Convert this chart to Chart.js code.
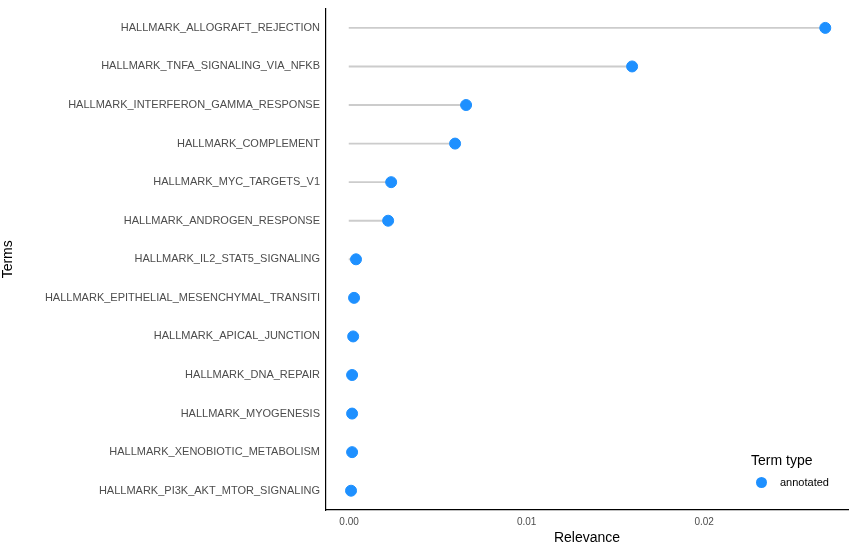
<!DOCTYPE html>
<html><head><meta charset="utf-8">
<script src="https://cdn.jsdelivr.net/npm/chart.js@4"></script>
<style>body{margin:0;background:#fff;font-family:"Liberation Sans",Arial,sans-serif}
#w{position:relative;width:856px;height:551px}
#lg{position:absolute;left:751px;top:452px;font-size:14px;color:#000}
#lg .it{margin-top:8px;font-size:11px;display:flex;align-items:center}
#lg .dot{width:11px;height:11px;border-radius:50%;background:#1e90ff;margin:0 13px 0 5px}</style>
</head><body><div id="w"><canvas id="c" width="856" height="551"></canvas>
<div id="lg">Term type<div class="it"><span class="dot"></span>annotated</div></div></div>
<script>
const terms=["HALLMARK_ALLOGRAFT_REJECTION","HALLMARK_TNFA_SIGNALING_VIA_NFKB","HALLMARK_INTERFERON_GAMMA_RESPONSE","HALLMARK_COMPLEMENT","HALLMARK_MYC_TARGETS_V1","HALLMARK_ANDROGEN_RESPONSE","HALLMARK_IL2_STAT5_SIGNALING","HALLMARK_EPITHELIAL_MESENCHYMAL_TRANSITI","HALLMARK_APICAL_JUNCTION","HALLMARK_DNA_REPAIR","HALLMARK_MYOGENESIS","HALLMARK_XENOBIOTIC_METABOLISM","HALLMARK_PI3K_AKT_MTOR_SIGNALING"];
const relevance=[0.02682,0.01594,0.00659,0.00597,0.00237,0.00220,0.00039,0.00028,0.00023,0.00017,0.00017,0.00017,0.00011];
const xTicks=[0,0.01,0.02];
new Chart(document.getElementById('c'),{
data:{labels:terms,datasets:[
{type:'bar',data:relevance.map(v=>[0,v]),backgroundColor:'#cccccc',barThickness:1.2,order:2},
{type:'line',data:relevance.map((v,i)=>({x:v,y:terms[i]})),showLine:false,pointRadius:5.5,pointHoverRadius:5.5,pointBackgroundColor:'#1e90ff',pointBorderColor:'#1e90ff',order:1}
]},
options:{indexAxis:'y',responsive:false,animation:false,
layout:{padding:{top:8,right:8,left:0,bottom:0}},
plugins:{legend:{display:false},tooltip:{enabled:false}},
scales:{
y:{type:'category',offset:true,grid:{display:false,drawTicks:true,tickLength:4},border:{color:'#000',width:1.2},
ticks:{color:'#4d4d4d',font:{size:11,family:'Liberation Sans'},padding:2},
title:{display:true,text:'Terms',color:'#000',font:{size:14,family:'Liberation Sans'},padding:0},
afterFit:s=>{s.width=326;}},
x:{type:'linear',min:-0.0013,max:0.0281,grid:{display:false,tickLength:4},border:{color:'#000',width:1.2},
afterBuildTicks:s=>{s.ticks=xTicks.map(v=>({value:v}));},
ticks:{color:'#4d4d4d',font:{size:10,family:'Liberation Sans'},callback:v=>v.toFixed(2),padding:2,maxRotation:0},
title:{display:true,text:'Relevance',color:'#000',font:{size:14,family:'Liberation Sans'},padding:{top:2}},
afterFit:s=>{s.height=41;}}
}}});
</script></body></html>
